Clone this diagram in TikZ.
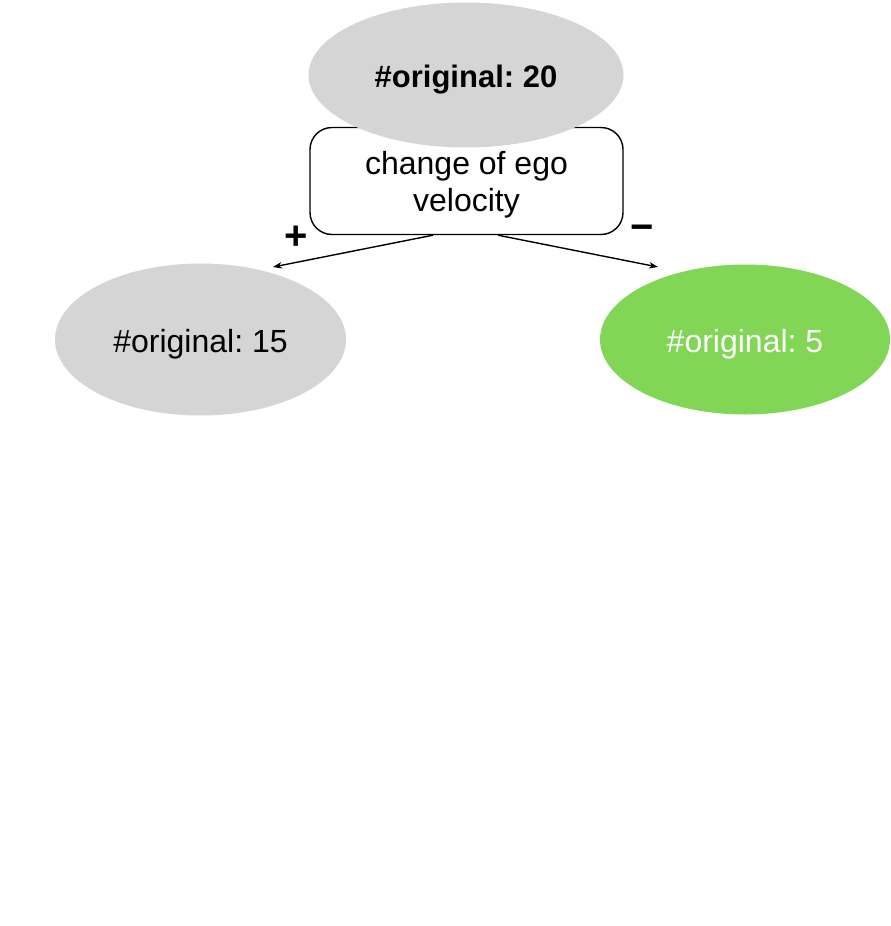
\documentclass[tikz,border=0pt]{standalone}
\usepackage{fontspec}
\setmainfont{Liberation Sans}
\usetikzlibrary{shapes.geometric,arrows.meta}
\definecolor{ellgray}{HTML}{D5D5D5}
\definecolor{ellgreen}{HTML}{82D656}
\frenchspacing
\newcommand{\lowered}[1]{\raisebox{0pt}[\dimexpr\height+4.5pt\relax][\dimexpr\depth-4.5pt\relax]{#1}}
\begin{document}
\begin{tikzpicture}[x=1pt,y=-1pt,
  ell/.style={ellipse,inner sep=0pt,draw=none},
  lbl/.style={font=\fontsize{32}{37}\selectfont},
  arr/.style={-{Stealth[length=9pt,width=6.5pt]},line width=1.4pt},
  sign/.style={font=\fontsize{40}{40}\selectfont\bfseries,inner sep=0pt},
  box/.style={draw,line width=1.4pt,rounded corners=22pt,fill=white,minimum width=313pt,minimum height=107pt,align=center,inner sep=0pt,font=\fontsize{32}{37}\selectfont}]
\useasboundingbox (0,0) rectangle (891,926);
\node[box] (bx) at (466.5,181) {\lowered{\begin{tabular}{@{}c@{}}change of ego\\velocity\end{tabular}}};
\node[ell,fill=ellgray,minimum width=315pt,minimum height=145pt,font=\fontsize{31}{37}\selectfont\bfseries] (top) at (466,75) {\lowered{\#original: 20}};
\node[ell,fill=ellgray,minimum width=291pt,minimum height=152pt,lbl] (left) at (200.5,339.5) {\lowered{\#original: 15}};
\node[ell,fill=ellgreen,minimum width=290pt,minimum height=150pt,lbl,text=white] (right) at (745,339.5) {\lowered{\#original: 5}};
\coordinate (tipL) at (273,267);
\coordinate (tipR) at (658,267);
\draw[arr] ([xshift=-33.5pt]bx.south) -- (tipL);
\draw[arr] ([xshift=31.5pt]bx.south) -- (tipR);
\node[sign] (plus) at (296,238) {+};
\node[sign] (minus) at (642,233) {−};
\end{tikzpicture}
\end{document}
